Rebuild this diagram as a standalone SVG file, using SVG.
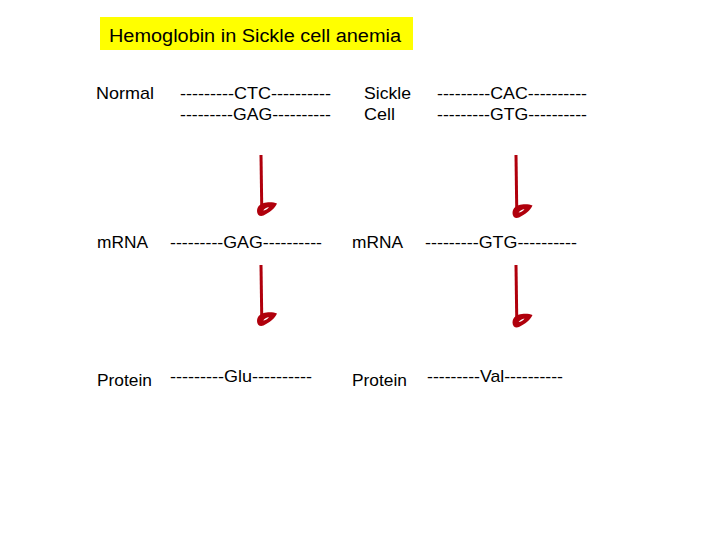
<svg xmlns="http://www.w3.org/2000/svg" width="720" height="540" viewBox="0 0 720 540">
<style>
.t{font-family:"Liberation Sans",Arial,sans-serif;font-size:17px;fill:#000}
.ttl{font-family:"Liberation Sans",Arial,sans-serif;font-size:18px;fill:#000}
.ln{stroke:#b0000c;stroke-width:3;fill:none}
use{fill:#b0000c;fill-rule:evenodd}
</style>
<defs>
<path id="blob" d="M-4.5,1 C-4.5,-4.5 0,-7 5,-7.5 C9,-8 13,-7.5 15.5,-6.5 C13.5,-1.5 8,2.5 2,5.5 C-1.5,7 -4.5,5 -4.5,1 Z M1.5,0.5 C3,-1.5 5,-2.5 7.5,-3 C6,-0.8 4,0.5 1.5,0.5 Z"/>
</defs>
<rect width="720" height="540" fill="#fff"/>
<g id="title">
<rect x="100" y="17" width="313" height="33" fill="#ffff00"/>
<text class="ttl" x="109" y="41.5" textLength="292" lengthAdjust="spacingAndGlyphs">Hemoglobin in Sickle cell anemia</text>
</g>
<g id="normal-dna">
<text class="t" x="96" y="99" textLength="58" lengthAdjust="spacingAndGlyphs">Normal</text>
<text class="t" x="180" y="99" textLength="151" lengthAdjust="spacingAndGlyphs">---------CTC----------</text>
<text class="t" x="180" y="120" textLength="151" lengthAdjust="spacingAndGlyphs">---------GAG----------</text>
</g>
<g id="sickle-dna">
<text class="t" x="364" y="99" textLength="47" lengthAdjust="spacingAndGlyphs">Sickle</text>
<text class="t" x="364" y="120" textLength="31" lengthAdjust="spacingAndGlyphs">Cell</text>
<text class="t" x="437" y="99" textLength="150" lengthAdjust="spacingAndGlyphs">---------CAC----------</text>
<text class="t" x="437" y="120" textLength="150" lengthAdjust="spacingAndGlyphs">---------GTG----------</text>
</g>
<g id="normal-mrna">
<text class="t" x="97" y="248" textLength="51" lengthAdjust="spacingAndGlyphs">mRNA</text>
<text class="t" x="170" y="248" textLength="152" lengthAdjust="spacingAndGlyphs">---------GAG----------</text>
</g>
<g id="sickle-mrna">
<text class="t" x="352" y="248" textLength="51" lengthAdjust="spacingAndGlyphs">mRNA</text>
<text class="t" x="425" y="248" textLength="152" lengthAdjust="spacingAndGlyphs">---------GTG----------</text>
</g>
<g id="normal-protein">
<text class="t" x="97" y="385.5" textLength="55" lengthAdjust="spacingAndGlyphs">Protein</text>
<text class="t" x="170" y="381.5" textLength="142" lengthAdjust="spacingAndGlyphs">---------Glu----------</text>
</g>
<g id="sickle-protein">
<text class="t" x="352" y="385.5" textLength="55" lengthAdjust="spacingAndGlyphs">Protein</text>
<text class="t" x="427" y="381.5" textLength="136" lengthAdjust="spacingAndGlyphs">---------Val----------</text>
</g>
<g id="connectors">
<path class="ln" d="M261,155 L261.8,211"/>
<use href="#blob" transform="translate(261.5,210)"/>
<path class="ln" d="M261,265 L261.8,321"/>
<use href="#blob" transform="translate(261.5,320)"/>
<path class="ln" d="M516,155 L516.8,214"/>
<use href="#blob" transform="translate(517,212)"/>
<path class="ln" d="M516,265 L516.8,323"/>
<use href="#blob" transform="translate(517,321.5)"/>
</g>
</svg>
